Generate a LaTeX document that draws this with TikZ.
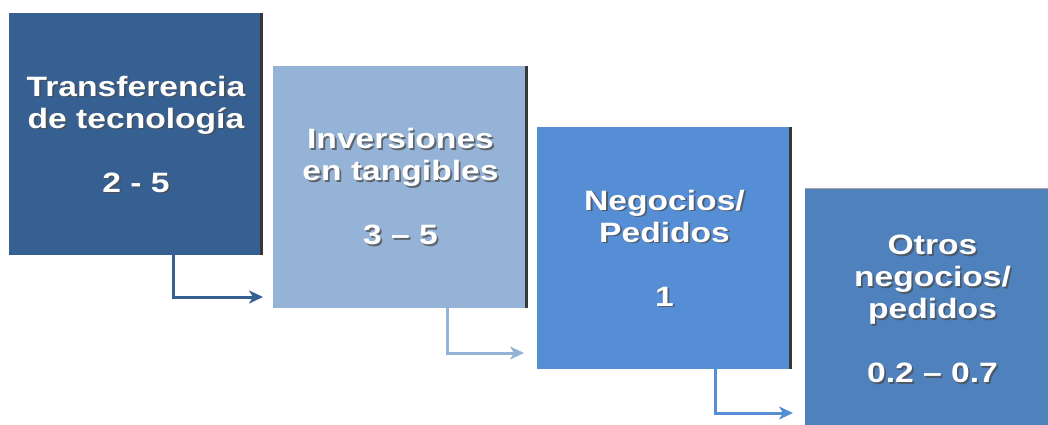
\documentclass[tikz,border=0pt]{standalone}
\usepackage{fontspec}
\setmainfont{Liberation Sans}[FakeStretch=1.2]
\usetikzlibrary{arrows.meta}
\definecolor{cA}{HTML}{376092}
\definecolor{cB}{HTML}{95B3D7}
\definecolor{cC}{HTML}{558ED5}
\definecolor{cD}{HTML}{4F81BD}
\begin{document}
\begin{tikzpicture}[x=1pt,y=-1pt,
  stepbox/.style={draw=none,anchor=north west,minimum width=255pt,minimum height=242pt,inner sep=0pt,outer sep=0pt},
  label/.style={text=white,font=\bfseries\fontsize{28}{32}\selectfont,align=center,inner sep=0pt},
  shade/.style={label,text=black!70,opacity=0.75},
  edge/.style={line width=3pt,black!78},
  flow/.style={line width=3pt,-{Stealth[length=14pt,width=13pt,inset=4pt]}}]
\useasboundingbox (0,0) rectangle (1048,425);
\clip (0,0) rectangle (1048,425);
\fill[white] (0,0) rectangle (1048,425);
% boxes
\node[stepbox,fill=cA,minimum width=254pt] (b1) at (9,13) {};
\node[stepbox,fill=cB] (b2) at (273,66) {};
\node[stepbox,fill=cC] (b3) at (537,127) {};
\node[stepbox,fill=cD] (b4) at (805,188) {};
\draw[edge] ([xshift=-1.5pt]b1.north east) -- ([xshift=-1.5pt]b1.south east);
\draw[edge] ([xshift=-1.5pt]b2.north east) -- ([xshift=-1.5pt]b2.south east);
\draw[edge] ([xshift=-1.5pt]b3.north east) -- ([xshift=-1.5pt]b3.south east);
\draw[gray!70,line width=1pt] ([yshift=-0.5pt]b4.north west) -- ([yshift=-0.5pt]b4.north east);
% texts
\node[shade] at ([xshift=1.8pt,yshift=-1.8pt]b1.center) {Transferencia\\de tecnología\\[32pt]2 - 5};
\node[label] (t1) at (b1.center) {Transferencia\\de tecnología\\[32pt]2 - 5};
\node[shade] at ([xshift=1.8pt,yshift=-1.8pt]b2.center) {Inversiones\\en tangibles\\[32pt]3 – 5};
\node[label] (t2) at (b2.center) {Inversiones\\en tangibles\\[32pt]3 – 5};
\node[shade] at ([xshift=1.8pt,yshift=-1.8pt]b3.center) {Negocios/\\Pedidos\\[32pt]1};
\node[label] (t3) at (b3.center) {Negocios/\\Pedidos\\[32pt]1};
\node[shade] at ([xshift=1.8pt,yshift=-1.8pt]b4.center) {Otros\\negocios/\\pedidos\\[32pt]0.2 – 0.7};
\node[label] (t4) at (b4.center) {Otros\\negocios/\\pedidos\\[32pt]0.2 – 0.7};
% connectors
\draw[flow,cA] ([xshift=164pt]b1.south west) |- ([xshift=-10pt,yshift=11pt]b2.south west);
\draw[flow,cB] ([xshift=174pt]b2.south west) |- ([xshift=-13pt,yshift=16pt]b3.south west);
\draw[flow,cC] ([xshift=178pt]b3.south west) |- ([xshift=-12pt,yshift=17pt]b4.south west);
\end{tikzpicture}
\end{document}
